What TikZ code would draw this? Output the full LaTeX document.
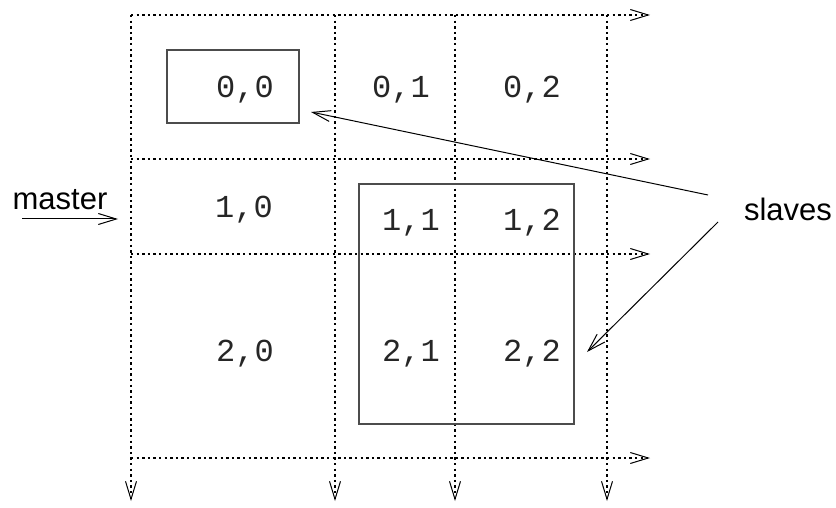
\documentclass[tikz,border=0pt]{standalone}
\usepackage{fontspec}
\setsansfont{Liberation Sans}
\setmonofont{Liberation Mono}
\usetikzlibrary{arrows.meta,positioning}
\tikzset{>={Straight Barb[length=9pt,width=5.5pt,line width=0.5pt]}}

\begin{document}
\begin{tikzpicture}[x=0.5pt, y=-0.5pt, line width=0.5pt]
	\tikzstyle{cell}=[font=\fontsize{16}{18}\selectfont\ttfamily, text=black!85, inner sep=0pt]
	\tikzstyle{word}=[font=\fontsize{15.5}{18}\selectfont\sffamily, inner sep=0pt]
	\tikzstyle{grid line}=[->, line width=1.2pt, dash pattern=on 1.2pt off 1.6pt]
	\tikzstyle{block}=[draw=black!70, line width=0.6pt]

	\useasboundingbox (0,0) rectangle (836,508);

	% rows
	\coordinate (r0-start) at (131,15);  \coordinate (r0-end) at (650,15);
	\coordinate (r1-start) at (131,159); \coordinate (r1-end) at (650,159);
	\coordinate (r2-start) at (131,254); \coordinate (r2-end) at (650,254);
	\coordinate (r3-start) at (131,458); \coordinate (r3-end) at (650,458);
	% columns
	\coordinate (k0-start) at (131,15);  \coordinate (k0-end) at (131,501);
	\coordinate (k1-start) at (335,15);  \coordinate (k1-end) at (335,501);
	\coordinate (k2-start) at (455,15);  \coordinate (k2-end) at (455,501);
	\coordinate (k3-start) at (607,15);  \coordinate (k3-end) at (607,501);

	\draw[grid line] (r0-start) -- (r0-end);
	\draw[grid line] (r1-start) -- (r1-end);
	\draw[grid line] (r2-start) -- (r2-end);
	\draw[grid line] (r3-start) -- (r3-end);
	\draw[grid line] (k0-start) -- (k0-end);
	\draw[grid line] (k1-start) -- (k1-end);
	\draw[grid line] (k2-start) -- (k2-end);
	\draw[grid line] (k3-start) -- (k3-end);

	% blocks
	\draw[block] (167,50) rectangle (299,123);
	\draw[block] (359,184) rectangle (574,424);

	\node[cell] (c00) at (245,90) {0,0};
	\node[cell] (c01) at (401,90) {0,1};
	\node[cell] (c02) at (532,90) {0,2};
	\node[cell] (c10) at (244,210) {1,0};
	\node[cell] (c11) at (411,223) {1,1};
	\node[cell] (c12) at (532,223) {1,2};
	\node[cell] (c20) at (245,354) {2,0};
	\node[cell] (c21) at (411,354) {2,1};
	\node[cell] (c22) at (532,354) {2,2};

	\node[word] (master) at (60,200) {master};
	\coordinate (master-from) at (22,219);
	\coordinate (master-to) at (118,219);
	\draw[->] (master-from) -- (master-to);

	\node[word] (slaves) at (788,209) {slaves};
	\coordinate (slaves-up) at (708,195);
	\coordinate (slaves-down) at (718,222);
	\coordinate (tip-first) at (311,112);
	\coordinate (tip-block) at (587,352);
	\draw[->] (slaves-up) -- (tip-first);
	\draw[->] (slaves-down) -- (tip-block);
\end{tikzpicture}
\end{document}
